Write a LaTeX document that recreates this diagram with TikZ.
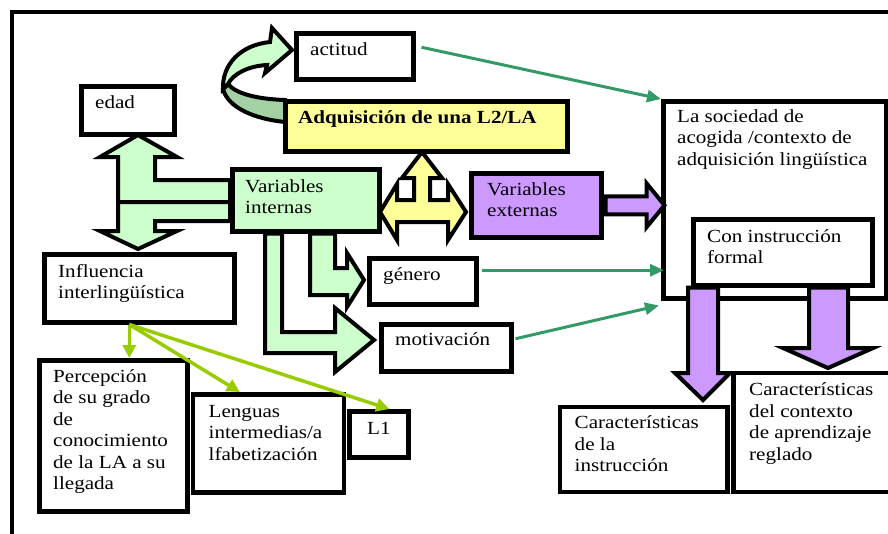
\documentclass[tikz,border=0pt]{standalone}
\usepackage{fontspec}
\setmainfont{Liberation Serif}[FakeStretch=1.14]
\usepackage{xcolor}
\usetikzlibrary{arrows.meta,calc}

\definecolor{greenF}{HTML}{CCFFCC}
\definecolor{greenD}{HTML}{A3D1A3}
\definecolor{yellowF}{HTML}{FFFF99}
\definecolor{purpleF}{HTML}{CC99FF}
\definecolor{linkG}{HTML}{339966}
\definecolor{limeG}{HTML}{99CC00}

% lines of a label, aligned on the first baseline
\newcommand{\toplines}[1]{\begin{tabular}[t]{@{}l@{}}#1\end{tabular}}

\begin{document}
\begin{tikzpicture}[x=1pt, y=-1pt,
    cbox/.style 2 args={draw, line width=4.5pt, anchor=north west, inner sep=0pt, minimum width=#1pt, minimum height=#2pt},
    lbl/.style={anchor=base west, inner sep=0pt, font=\fontsize{18.5}{21.5}\selectfont},
    barrow/.style={draw, line width=4pt, line join=miter},
    conn/.style={->, >={Triangle[length=14pt,width=12pt]}, line width=3pt, linkG},
    lime/.style={->, >={Triangle[length=13pt,width=13pt]}, line width=3.5pt, limeG}
  ]
  \useasboundingbox (0,0) rectangle (888,533);
  \clip (0,0) rectangle (888,533);
  % outer frame
  \draw[line width=4pt] (11.5,540) -- (11.5,11.5) -- (895,11.5);

  % curved arrow adquisicion -> actitud
  \draw[barrow, fill=greenD] (223,89) .. controls (228,108) and (255,119) .. (285,122)
    -- (285,100) .. controls (255,99) and (235,93) .. (228,84) -- cycle;
  \draw[barrow, fill=greenF] (223,89) .. controls (222,65) and (240,45) .. (270,42)
    -- (272,28) -- (292,50) -- (265,73) -- (267,65)
    .. controls (248,66) and (233,74) .. (228,84) -- cycle;

  % boxes
  \node[cbox={117}{46}] (actitud) at (294,31) {};
  \node[cbox={93}{48}] (edad) at (79,84) {};
  \node[cbox={282}{50}, fill=yellowF] (adq) at (283,99) {};
  \node[cbox={147}{62}, fill=greenF] (vint) at (230,167) {};
  \node[cbox={130}{64}, fill=purpleF] (vext) at (469,171) {};
  \node[cbox={223}{197}, fill=white] (soc) at (661,99) {};
  \node[cbox={179}{66}] (coninst) at (691,217) {};
  \node[cbox={190}{68}] (infl) at (42,252) {};
  \node[cbox={107}{46}] (genero) at (367,256) {};
  \node[cbox={130}{47}] (motiv) at (379,322) {};
  \node[cbox={148}{151}] (percep) at (37,358) {};
  \node[cbox={151}{98}] (lenguas) at (190.5,392) {};
  \node[cbox={59}{46}] (L1) at (347,409) {};
  \node[cbox={167.5}{85}] (cinstr) at (557.5,404.5) {};
  \node[cbox={170}{119}] (ccont) at (731,370.5) {};

  % texts
  \node[lbl] (actitud-t) at ([shift={(16,24)}]actitud.north west) {actitud};
  \node[lbl] (edad-t) at ([shift={(16,24)}]edad.north west) {edad};
  \node[lbl, font=\fontsize{18.5}{21.5}\selectfont\bfseries] (adq-t) at ([shift={(15,24)}]adq.north west) {Adquisición de una L2/LA};
  \node[lbl] (vint-t) at ([shift={(15,25)}]vint.north west) {\toplines{Variables\\internas}};
  \node[lbl] (vext-t) at ([shift={(18,24)}]vext.north west) {\toplines{Variables\\externas}};
  \node[lbl] (soc-t) at ([shift={(16,23)}]soc.north west) {\toplines{La sociedad de\\acogida /contexto de\\adquisición lingüística}};
  \node[lbl] (coninst-t) at ([shift={(16,25)}]coninst.north west) {\toplines{Con instrucción\\formal}};
  \node[lbl] (infl-t) at ([shift={(16,25)}]infl.north west) {\toplines{Influencia\\interlingüística}};
  \node[lbl] (genero-t) at ([shift={(16,24)}]genero.north west) {género};
  \node[lbl] (motiv-t) at ([shift={(16,23)}]motiv.north west) {motivación};
  \node[lbl] (percep-t) at ([shift={(16,24)}]percep.north west) {\toplines{Percepción\\de su grado\\de\\conocimiento\\de la LA a su\\llegada}};
  \node[lbl] (lenguas-t) at ([shift={(18,25)}]lenguas.north west) {\toplines{Lenguas\\intermedias/a\\lfabetización}};
  \node[lbl] (L1-t) at ([shift={(20,25)}]L1.north west) {L1};
  \node[lbl] (cinstr-t) at ([shift={(17,24)}]cinstr.north west) {\toplines{Características\\de la\\instrucción}};
  \node[lbl] (ccont-t) at ([shift={(18,25)}]ccont.north west) {\toplines{Características\\del contexto\\de aprendizaje\\reglado}};

  % thin connectors
  \draw[conn] ([shift={(6,-9)}]actitud.east) -- (soc.north west);
  \draw[conn] ([shift={(3,-11)}]genero.east) -- ([shift={(3,-11)}]genero.east -| soc.west);
  \draw[conn] ([shift={(2,-9)}]motiv.east) -- ([shift={(-2,5)}]soc.south west);
  \draw[lime] ([xshift=-10pt]infl.south) -- ([xshift=-10pt]infl.south |- percep.north);
  \draw[lime] ([xshift=-10pt]infl.south) -- ([xshift=-28.5pt]lenguas.north);
  \draw[lime] ([xshift=-10pt]infl.south) -- ([xshift=10.5pt]L1.north);

  % block arrows: edad / influencia
  \draw[barrow, fill=greenF] (vint.west |- 0,180) -- (155,180) -- (155,157) -- (177,157)
    -- (138,135) -- (100,157) -- (118,157) -- (118,202) -- (vint.west |- 0,202) -- cycle;
  \draw[barrow, fill=greenF] (vint.west |- 0,202) -- (118,202) -- (118,231) -- (100,231)
    -- (138,249) -- (177,231) -- (155,231) -- (155,221) -- (vint.west |- 0,221) -- cycle;
  % block arrows: genero / motivacion
  \draw[barrow, fill=greenF] (vint.south -| 310,0) -- (310,295) -- (347,295) -- (347,307)
    -- (364,280) -- (347,253) -- (347,268) -- (335,268) -- (vint.south -| 335,0) -- cycle;
  \draw[barrow, fill=greenF] (vint.south -| 265,0) -- (265,353) -- (335,353) -- (335,372)
    -- (374,340) -- (335,308) -- (335,332) -- (282,332) -- (vint.south -| 282,0) -- cycle;
  % block arrow: three ways
  \draw[barrow, fill=yellowF] (422,152) -- (442,178) -- (430,178) -- (430,200) -- (448,200)
    -- (448,184) -- (466,212) -- (448,240) -- (448,222) -- (397,222) -- (397,240)
    -- (380,212) -- (397,184) -- (397,200) -- (414,200) -- (414,178) -- (402,178) -- cycle;
  % block arrows: purple
  \draw[barrow, fill=purpleF] (vext.east) ++(2,-9) -- ++(41,0) -- ++(0,-13) -- ++(18,22)
    -- ++(-18,22) -- ++(0,-13) -- ++(-41,0) -- cycle;
  \draw[barrow, fill=purpleF] (coninst.south -| 688,0) -- (688,373) -- (675,373) -- (703,400)
    -- (730,373) -- (718,373) -- (coninst.south -| 718,0) -- cycle;
  \draw[barrow, fill=purpleF] (coninst.south -| 809,0) -- (809,348) -- (783,348) -- (828,368)
    -- (873,348) -- (848,348) -- (coninst.south -| 848,0) -- cycle;
\end{tikzpicture}
\end{document}
